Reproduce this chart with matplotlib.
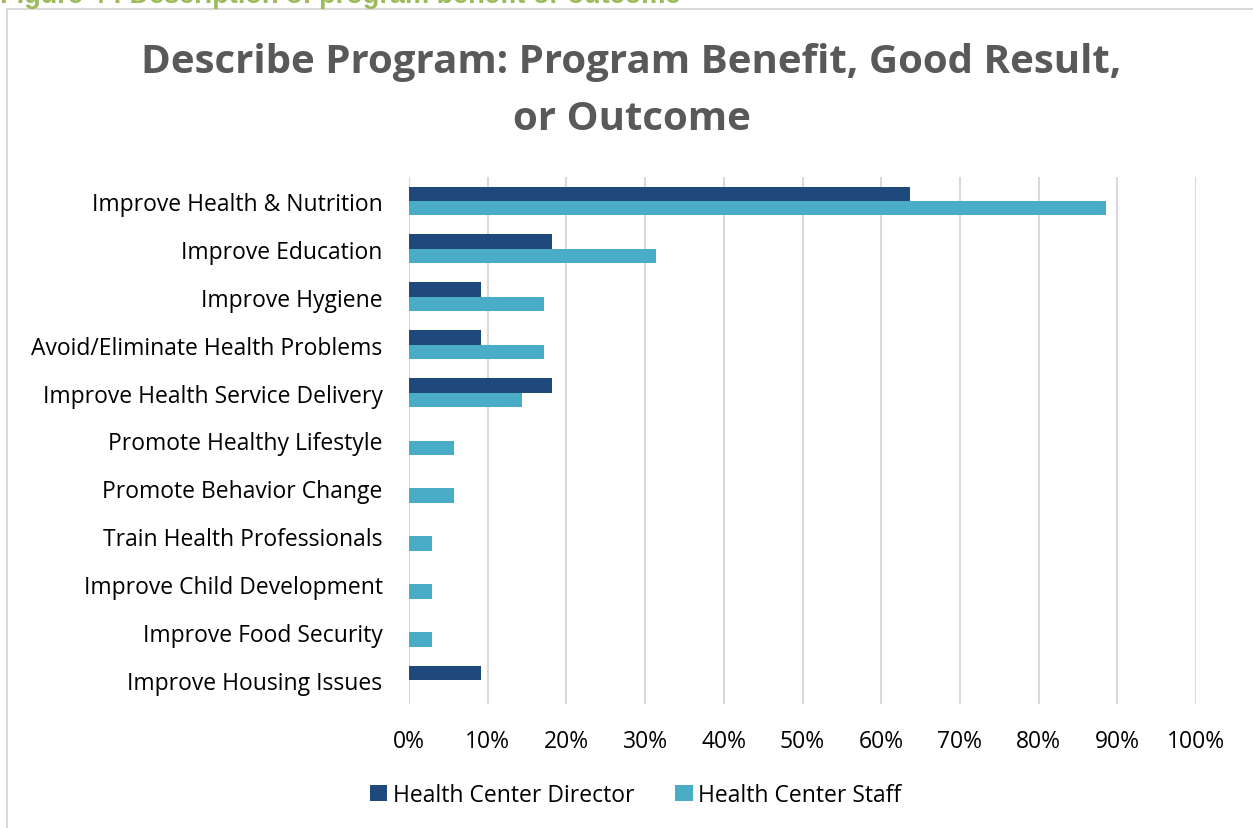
import numpy as np
import matplotlib.pyplot as plt
from matplotlib.patches import Rectangle
from matplotlib.ticker import PercentFormatter

# Data (share of respondents, %)
categories = [
    "Improve Health & Nutrition",
    "Improve Education",
    "Improve Hygiene",
    "Avoid/Eliminate Health Problems",
    "Improve Health Service Delivery",
    "Promote Healthy Lifestyle",
    "Promote Behavior Change",
    "Train Health Professionals",
    "Improve Child Development",
    "Improve Food Security",
    "Improve Housing Issues",
]
director = [63.6, 18.2, 9.1, 9.1, 18.2, 0, 0, 0, 0, 0, 9.1]
staff = [88.6, 31.4, 17.1, 17.1, 14.3, 5.7, 5.7, 2.9, 2.9, 2.9, 0]
xticks = list(range(0, 101, 10))

dark = "#1F497D"
light = "#4BACC6"

plt.rcParams['font.family'] = ['Open Sans', 'DejaVu Sans']

W, H = 1253, 829
fig = plt.figure(figsize=(W / 100, H / 100), dpi=100)

# axes placed in pixel coords of the reference
left, right, top, bottom = 409, 1196, 178, 705
ax = fig.add_axes([left / W, 1 - bottom / H, (right - left) / W, (bottom - top) / H])

y = np.arange(len(categories))
h = 0.3
ax.barh(y - h / 2, director, height=h, color=dark, label="Health Center Director", zorder=3)
ax.barh(y + h / 2, staff, height=h, color=light, label="Health Center Staff", zorder=3)

ax.set_ylim(len(categories) - 0.5, -0.5)
ax.set_xlim(0, 100)
ax.set_xticks(xticks)
ax.xaxis.set_major_formatter(PercentFormatter(decimals=0))
ax.set_yticks(y)
ax.set_yticklabels(categories)
ax.tick_params(axis='both', length=0, labelsize=16.5, colors='#000000')
ax.tick_params(axis='x', pad=18)
ax.tick_params(axis='y', pad=19)
ax.grid(axis='x', color='#D9D9D9', linewidth=1.5, zorder=0)
for s in ax.spines.values():
    s.set_visible(False)

fig.text(0.5 * (143 + 1120) / W, 1 - 91 / H,
         "Describe Program: Program Benefit, Good Result,\nor Outcome",
         ha='center', va='center', fontsize=29, fontweight='bold',
         color='#595959', linespacing=1.6)

ax.legend(loc='center', bbox_to_anchor=(0.5 * (366 + 905) / W, 1 - 796 / H),
          bbox_transform=fig.transFigure, ncol=2, frameon=False,
          fontsize=16.5, handlelength=0.75, handleheight=0.75, handletextpad=0.25,
          columnspacing=1.8)

# cut-off caption and frame from the source document
fig.text(0.0, 1 - 3 / H, "Figure 4 : Description of program benefit or outcome",
         ha='left', va='baseline', fontsize=19.5, fontweight='bold',
         color='#9BBB59', family='Liberation Sans')
fig.add_artist(Rectangle((7 / W, -0.1), 1.2, 1 - 10 / H + 0.1,
                         transform=fig.transFigure, fill=False,
                         edgecolor='#D9D9D9', linewidth=1.5))

fig.savefig("out.png", dpi=100)
